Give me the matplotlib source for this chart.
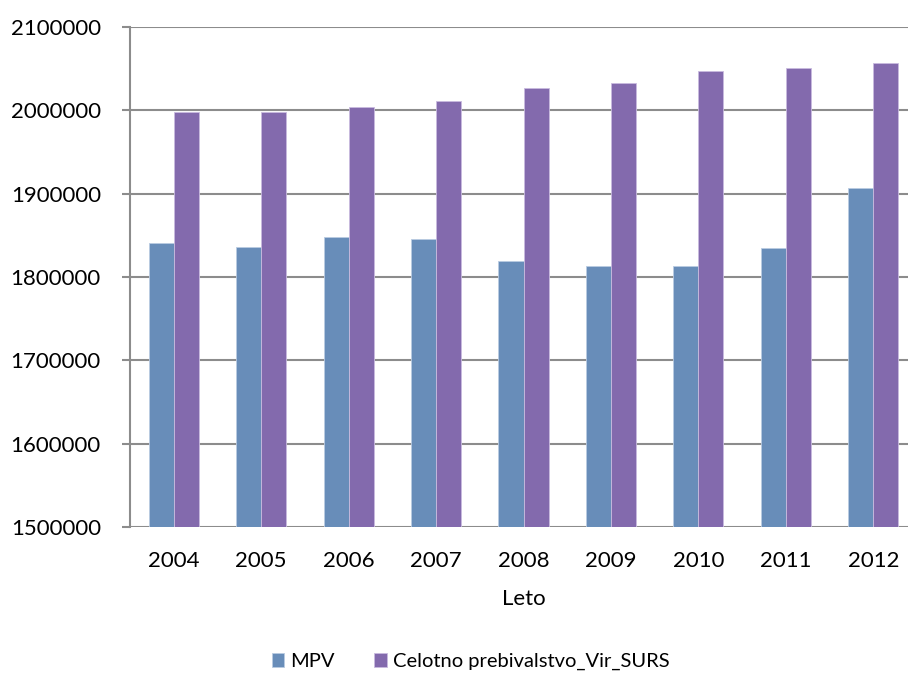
import numpy as np
import matplotlib.pyplot as plt

# population by year (persons)
years = ["2004", "2005", "2006", "2007", "2008", "2009", "2010", "2011", "2012"]
mpv = [1841000, 1835600, 1847700, 1845600, 1819200, 1813200, 1813200, 1835200, 1907200]
surs = [1997600, 1997600, 2003600, 2011200, 2027100, 2033100, 2047200, 2051100, 2057100]
series_names = ["MPV", "Celotno prebivalstvo_Vir_SURS"]
y_ticks = [1500000, 1600000, 1700000, 1800000, 1900000, 2000000, 2100000]

plt.rcParams['font.family'] = ['Lato', 'DejaVu Sans']

fig = plt.figure(figsize=(9.08, 6.73), dpi=100)
# plot area runs a little past the right edge of the figure
ax = fig.add_axes([130 / 908, 0.217, 787 / 908, 0.743])

x = np.arange(len(years))
w = 0.286
ax.bar(x - w / 2, mpv, w, color='#688DB9', edgecolor='#B9CBE2', linewidth=0.6,
       label=series_names[0], zorder=3)
ax.bar(x + w / 2, surs, w, color='#836AAD', edgecolor='#C9BBDF', linewidth=0.6,
       label=series_names[1], zorder=3)

ax.set_xlim(-0.5, len(years) - 0.5)
ax.set_ylim(y_ticks[0], y_ticks[-1])
ax.set_yticks(y_ticks)
ax.set_yticklabels([str(v) for v in y_ticks])
ax.set_xticks(x)
ax.set_xticklabels(years)
ax.yaxis.grid(True, color='#8C8C8C', linewidth=1.5, zorder=0)

for s in ['top', 'right', 'bottom']:
    ax.spines[s].set_visible(False)
ax.spines['left'].set_color('#8C8C8C')
ax.spines['left'].set_linewidth(1.5)
ax.tick_params(axis='y', length=6, width=1.5, color='#8C8C8C', labelsize=16, pad=15)
ax.tick_params(axis='x', length=0, labelsize=16, pad=17)
ax.set_xlabel("Leto", fontsize=16, labelpad=13)

fig.legend(loc='center', bbox_to_anchor=(0.518, 0.017), ncol=2, frameon=False,
           fontsize=14.5, handlelength=0.6, handleheight=0.75, handletextpad=0.3,
           columnspacing=2.0, borderpad=0)

fig.savefig("out.png", dpi=100)
